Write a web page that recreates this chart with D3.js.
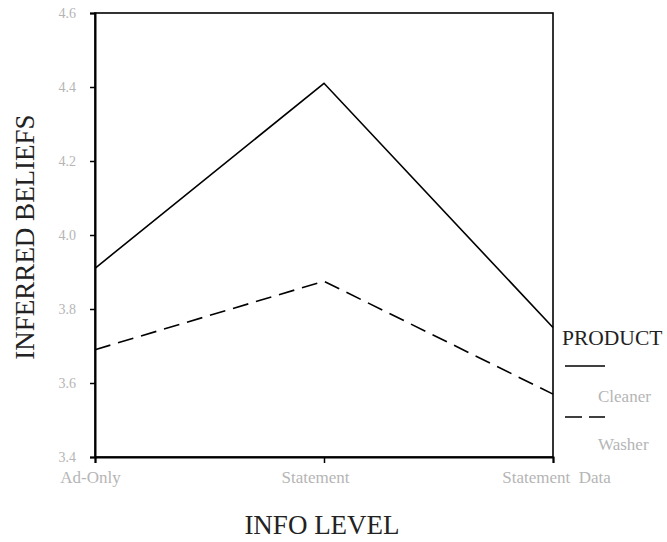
<!DOCTYPE html>
<html>
<head>
<meta charset="utf-8">
<script src="https://cdn.jsdelivr.net/npm/d3@7"></script>
<style>
  body { margin: 0; background: #fff; }
  text { font-family: "Liberation Serif", "DejaVu Serif", serif; }
</style>
</head>
<body>
<div id="chart"></div>
<script>
// data
const levels = ["Ad-Only", "Statement", "Statement  Data"];
const cleaner = [3.91, 4.41, 3.75];
const washer = [3.69, 3.875, 3.57];
const yTicks = [3.4, 3.6, 3.8, 4.0, 4.2, 4.4, 4.6];

const margin = { top: 13, right: 114, bottom: 85, left: 95 },
    width = 667 - margin.left - margin.right,
    height = 542 - margin.top - margin.bottom;

const svg = d3.select("#chart")
    .append("svg")
    .attr("width", 667)
    .attr("height", 542)
    .append("g")
    .attr("transform", `translate(${margin.left},${margin.top})`);

const x = d3.scalePoint()
    .domain(levels)
    .range([0, width]);

const y = d3.scaleLinear()
    .domain([3.4, 4.6])
    .range([height, 0]);

// frame
svg.append("rect")
    .attr("width", width)
    .attr("height", height)
    .attr("fill", "none")
    .attr("stroke", "#000")
    .attr("stroke-width", 1.6);

// y axis
const yAxis = svg.append("g")
    .call(d3.axisLeft(y).tickValues(yTicks).tickFormat(d3.format(".1f")).tickSize(5).tickPadding(14));
yAxis.select(".domain").attr("stroke-width", 2);
yAxis.selectAll(".tick line").attr("stroke-width", 1.5);
yAxis.selectAll("text")
    .attr("fill", "#b5b5b5")
    .style("font-size", "14px");

// x axis
const xAxis = svg.append("g")
    .attr("transform", `translate(0,${height})`)
    .call(d3.axisBottom(x).tickSize(6).tickPadding(8));
xAxis.select(".domain").attr("stroke-width", 2);
xAxis.selectAll(".tick line").attr("stroke-width", 1.5);
xAxis.selectAll("text")
    .attr("fill", "#b5b5b5")
    .style("font-size", "17px")
    .style("white-space", "pre")
    .attr("xml:space", "preserve")
    .attr("dx", (d, i) => [-5, -9, 3][i]);

// lines
const line = d3.line()
    .x((d, i) => x(levels[i]))
    .y(d => y(d));

svg.append("path")
    .datum(cleaner)
    .attr("d", line)
    .attr("fill", "none")
    .attr("stroke", "#000")
    .attr("stroke-width", 1.6);

svg.append("path")
    .datum(washer)
    .attr("d", line)
    .attr("fill", "none")
    .attr("stroke", "#000")
    .attr("stroke-width", 1.6)
    .attr("stroke-dasharray", "16,8");

// axis titles
svg.append("text")
    .attr("transform", `translate(-61,${height / 2 + 2}) rotate(-90)`)
    .attr("text-anchor", "middle")
    .style("font-size", "27px")
    .attr("fill", "#222")
    .text("INFERRED BELIEFS");

svg.append("text")
    .attr("x", width / 2 - 2)
    .attr("y", height + 77)
    .attr("text-anchor", "middle")
    .style("font-size", "27px")
    .attr("fill", "#222")
    .text("INFO LEVEL");

// legend
const legend = svg.append("g")
    .attr("transform", `translate(${width + 9},0)`);

legend.append("text")
    .attr("x", 0)
    .attr("y", 332)
    .style("font-size", "21.5px")
    .attr("fill", "#222")
    .text("PRODUCT");

legend.append("line")
    .attr("x1", 3).attr("x2", 43)
    .attr("y1", 353).attr("y2", 353)
    .attr("stroke", "#000")
    .attr("stroke-width", 1.6);

legend.append("text")
    .attr("x", 36)
    .attr("y", 389)
    .style("font-size", "17px")
    .attr("fill", "#b5b5b5")
    .text("Cleaner");

legend.append("line")
    .attr("x1", 3).attr("x2", 43)
    .attr("y1", 404).attr("y2", 404)
    .attr("stroke", "#000")
    .attr("stroke-width", 1.6)
    .attr("stroke-dasharray", "17,7");

legend.append("text")
    .attr("x", 36)
    .attr("y", 437)
    .style("font-size", "17px")
    .attr("fill", "#b5b5b5")
    .text("Washer");
</script>
</body>
</html>
